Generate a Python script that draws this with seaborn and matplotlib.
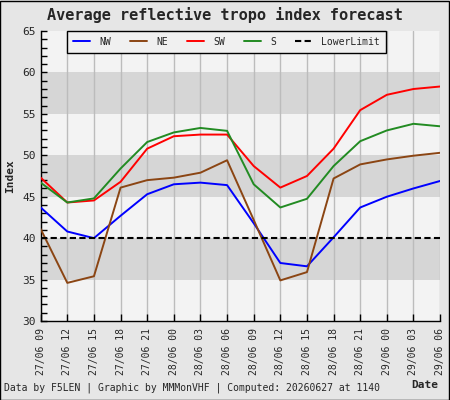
import matplotlib
matplotlib.use("Agg")
import matplotlib.pyplot as plt
import seaborn as sns
import pandas as pd

# Forecast times (tick labels)
times = ["27/06 09", "27/06 12", "27/06 15", "27/06 18", "27/06 21",
         "28/06 00", "28/06 03", "28/06 06", "28/06 09", "28/06 12",
         "28/06 15", "28/06 18", "28/06 21", "29/06 00", "29/06 03", "29/06 06"]

# Index values
nw = [43.7, 40.8, 40.0, 42.7, 45.3, 46.5, 46.7, 46.4, 41.8, 37.0,
      36.6, 40.1, 43.7, 45.0, 46.0, 46.9]
ne = [41.1, 34.6, 35.4, 46.1, 47.0, 47.3, 47.9, 49.4, 42.2, 34.9,
      35.9, 47.2, 48.9, 49.5, 49.95, 50.3]
sw = [47.3, 44.3, 44.55, 46.8, 50.8, 52.3, 52.5, 52.5, 48.7, 46.1,
      47.5, 50.8, 55.45, 57.3, 58.0, 58.3]
s = [46.7, 44.3, 44.8, 48.4, 51.6, 52.76, 53.3, 52.95, 46.5, 43.7,
     44.75, 48.7, 51.7, 53.0, 53.8, 53.5]
lower_limit = 40

series = {"NW": nw, "NE": ne, "SW": sw, "S": s}
colors = {"NW": "#0000ff", "NE": "#8b4513", "SW": "#ff0000", "S": "#228b22"}

rows = []
for name, vals in series.items():
    for t, v in zip(times, vals):
        rows.append({"Date": t, "Index": v, "Region": name})
df = pd.DataFrame(rows)

sns.set_style("white")
plt.rcParams['font.family'] = ['DejaVu Sans Mono']

fig = plt.figure(figsize=(4.5, 4.0), dpi=100, facecolor="#e6e6e6")
ax = fig.add_axes([0.0904, 0.1975, 0.8876, 0.725])
ax.set_facecolor("#f3f3f3")

# grey bands
for lo, hi in [(35, 40), (45, 50), (55, 60)]:
    ax.axhspan(lo, hi, color="#d6d6d6", zorder=0, lw=0)

sns.lineplot(data=df, x="Date", y="Index", hue="Region", palette=colors,
             linewidth=1.4, ax=ax, sort=False, zorder=3)
ax.axhline(lower_limit, color="black", linestyle=(0, (3, 1.6)), linewidth=1.5,
           label="LowerLimit", zorder=4)

ax.set_xlim(0, len(times) - 1)
ax.set_ylim(30, 65)
ax.set_xticks(range(len(times)))
ax.set_xticklabels(times, rotation=90, fontsize=7)
ax.set_yticks(range(30, 66, 5))
ax.set_yticks(range(30, 66), minor=True)
ax.tick_params(axis="y", which="both", direction="in", length=4, width=1,
               left=True, labelsize=8, color="black")
ax.tick_params(axis="x", direction="in", length=5, width=1, bottom=True,
               color="black", pad=5)
ax.xaxis.grid(True, color="#bcbcbc", linewidth=1)
ax.yaxis.grid(False)
ax.set_axisbelow(True)

for side in ["top", "right"]:
    ax.spines[side].set_visible(False)
for side in ["left", "bottom"]:
    ax.spines[side].set_color("black")
    ax.spines[side].set_linewidth(1)

ax.set_xlabel("")
ax.set_ylabel("Index", fontsize=8, fontweight="bold", labelpad=5)

handles, labels = ax.get_legend_handles_labels()
leg = ax.legend(handles, labels, ncol=5, loc="upper left",
                bbox_to_anchor=(0.066, 1.0), borderaxespad=0, fontsize=7,
                frameon=True, fancybox=False, edgecolor="black",
                facecolor="#f0f0f0", framealpha=1, handlelength=1.8,
                handletextpad=0.9, columnspacing=1.95, borderpad=0.6)
leg.get_frame().set_linewidth(1)

fig.suptitle("Average reflective tropo index forecast", fontsize=11,
             fontweight="bold", x=0.5, y=0.983)
fig.text(0.009, 0.018, "Data by F5LEN | Graphic by MMMonVHF | Computed: 20260627 at 1140",
         fontsize=7, ha="left", va="bottom")
fig.text(0.975, 0.025, "Date", fontsize=8, fontweight="bold", ha="right", va="bottom")

# thin black frame around the whole picture
fig.add_artist(plt.Rectangle((0.001, 0.001), 0.997, 0.997, transform=fig.transFigure,
                             fill=False, edgecolor="black", linewidth=1))

fig.savefig("out.png", dpi=100, facecolor=fig.get_facecolor())
